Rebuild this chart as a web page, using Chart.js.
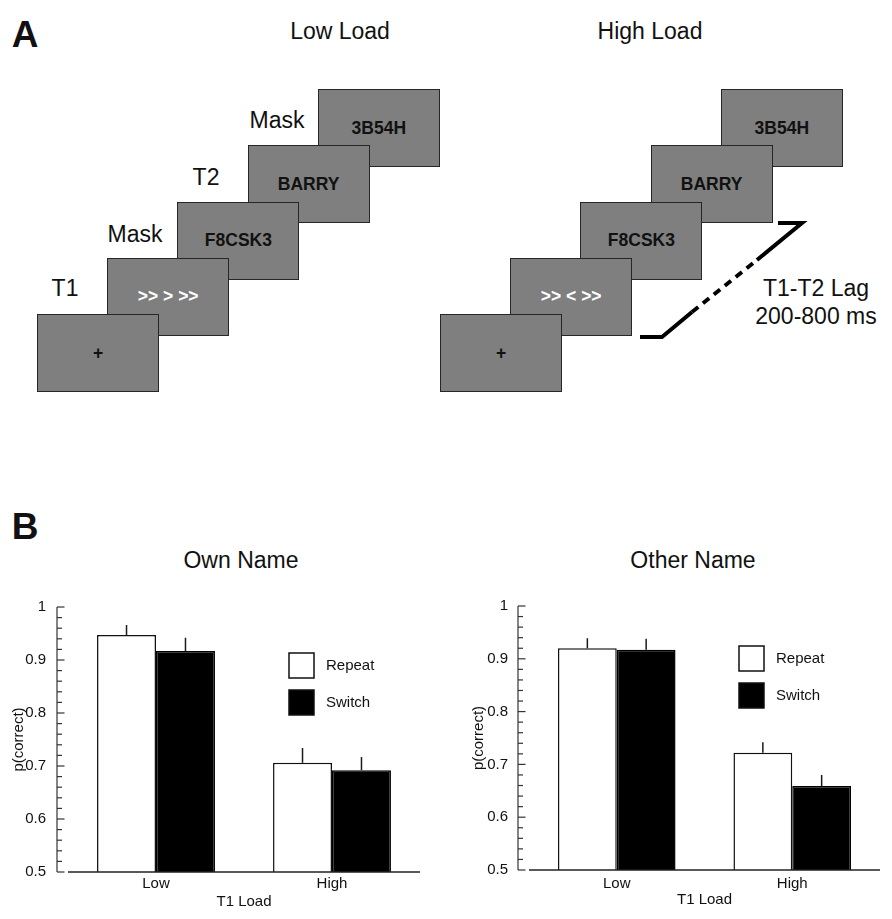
<!DOCTYPE html>
<html>
<head>
<meta charset="utf-8">
<script src="https://cdn.jsdelivr.net/npm/chart.js@4.4.1/dist/chart.umd.min.js"></script>
<style>
  body { margin: 0; background: #fff; font-family: "Liberation Sans", Arial, sans-serif; color: #111; }
  #page { position: relative; width: 892px; height: 919px; overflow: hidden; }
  .t { position: absolute; transform: translate(-50%, -50%); white-space: nowrap; line-height: 1; }
  .lab { font-size: 23px; }
  .big { font-size: 37px; font-weight: bold; }
  .box { position: absolute; width: 120px; height: 76px; background: #7f7f7f; border: 1.5px solid #262626;
         display: flex; align-items: center; justify-content: center; font-weight: bold; font-size: 17.5px; color: #111; }
  canvas { position: absolute; }
</style>
</head>
<body>
<div id="page">
  <div class="t big" style="left:25px;top:34px">A</div>
  <div class="t lab" style="left:340px;top:31px">Low Load</div>
  <div class="t lab" style="left:650px;top:31px">High Load</div>
  <div class="t lab" style="left:65px;top:288px">T1</div>
  <div class="t lab" style="left:135px;top:234px">Mask</div>
  <div class="t lab" style="left:206px;top:177px">T2</div>
  <div class="t lab" style="left:277px;top:120px">Mask</div>
  <div class="t lab" style="left:816px;top:288px">T1-T2 Lag</div>
  <div class="t lab" style="left:816px;top:316px">200-800 ms</div>
  <svg style="position:absolute;left:0;top:0" width="892" height="400">
    <g fill="none" stroke="#000" stroke-width="4">
      <polyline points="640,337 662,337 692,312"/>
      <line x1="692" y1="312" x2="757" y2="260" stroke-dasharray="8 6"/>
      <polyline points="757,260 802,223 778,223"/>
    </g>
  </svg>

  <div class="t big" style="left:25px;top:526px">B</div>
  <div class="t lab" style="left:241px;top:560px">Own Name</div>
  <div class="t lab" style="left:693px;top:560px">Other Name</div>

  <canvas id="own" width="440" height="329" style="left:0;top:590px;width:440px;height:329px"></canvas>
  <canvas id="other" width="452" height="329" style="left:440px;top:590px;width:452px;height:329px"></canvas>
</div>

<script>
// stimulus sequences for panel A
const lowLoadFrames = ['+', '>> > >>', 'F8CSK3', 'BARRY', '3B54H'];
const highLoadFrames = ['+', '>> < >>', 'F8CSK3', 'BARRY', '3B54H'];

// panel B data
const categories = ['Low', 'High'];
const seriesNames = ['Repeat', 'Switch'];
const ownRepeat = [0.947, 0.706];
const ownRepeatSE = [0.019, 0.028];
const ownSwitch = [0.917, 0.692];
const ownSwitchSE = [0.025, 0.025];
const otherRepeat = [0.920, 0.722];
const otherRepeatSE = [0.019, 0.020];
const otherSwitch = [0.917, 0.659];
const otherSwitchSE = [0.021, 0.021];
const yTickLabels = ['0.5', '0.6', '0.7', '0.8', '0.9', '1'];
const yMin = 0.5, yMax = 1, yStep = 0.1, yMinorStep = 0.02;

// draw the frame stacks
function drawFrames(frames, x0) {
  const page = document.getElementById('page');
  frames.forEach((txt, i) => {
    const d = document.createElement('div');
    d.className = 'box';
    d.style.left = (x0 + i * 70.2) + 'px';
    d.style.top = (314 - i * 56.25) + 'px';
    d.style.zIndex = 10 - i;
    if (txt.indexOf('>') >= 0) d.style.color = '#fff';
    d.textContent = txt;
    page.appendChild(d);
  });
}
drawFrames(lowLoadFrames, 37);
drawFrames(highLoadFrames, 440);

Chart.defaults.font.family = "'Liberation Sans', Arial, sans-serif";
Chart.defaults.color = '#111';

// error bars, offset y axis with minor ticks, x axis line and legend
const figAxes = {
  id: 'figAxes',
  afterDatasetsDraw(chart, args, opts) {
    const { ctx, chartArea: a, scales: { y } } = chart;
    ctx.save();
    ctx.strokeStyle = '#1a1a1a';
    ctx.lineWidth = 1.5;
    chart.data.datasets.forEach((ds, i) => {
      chart.getDatasetMeta(i).data.forEach((bar, j) => {
        const top = y.getPixelForValue(ds.data[j] + ds.errors[j]);
        ctx.beginPath();
        ctx.moveTo(bar.x, bar.y);
        ctx.lineTo(bar.x, top);
        ctx.stroke();
      });
    });

    const ax = a.left - opts.gap;
    ctx.strokeStyle = '#333';
    ctx.lineWidth = 1.2;
    ctx.beginPath();
    ctx.moveTo(ax, y.getPixelForValue(yMax));
    ctx.lineTo(ax, y.getPixelForValue(yMin));
    ctx.stroke();
    const n = Math.round((yMax - yMin) / yMinorStep);
    for (let k = 0; k <= n; k++) {
      const py = y.getPixelForValue(yMin + k * yMinorStep);
      const len = k % 5 === 0 ? 7.5 : 5;
      ctx.beginPath();
      ctx.moveTo(ax, py);
      ctx.lineTo(ax + len, py);
      ctx.stroke();
    }

    ctx.lineWidth = 1.5;
    ctx.strokeStyle = '#222';
    ctx.beginPath();
    ctx.moveTo(a.left, a.bottom);
    ctx.lineTo(a.right, a.bottom);
    ctx.stroke();

    // legend
    ctx.font = "15px 'Liberation Sans', Arial, sans-serif";
    ctx.textBaseline = 'middle';
    chart.data.datasets.forEach((ds, i) => {
      const bx = opts.legendX, by = opts.legendY + i * 37;
      ctx.fillStyle = ds.backgroundColor;
      ctx.fillRect(bx, by, 25, 25);
      ctx.strokeStyle = '#111';
      ctx.lineWidth = 1.5;
      ctx.strokeRect(bx, by, 25, 25);
      ctx.fillStyle = '#111';
      ctx.fillText(ds.label, bx + 37, by + 12.5);
    });
    ctx.restore();
  }
};

function makeChart(id, repeatVals, repeatSE, switchVals, switchSE, lay) {
  return new Chart(document.getElementById(id), {
    type: 'bar',
    data: {
      labels: categories,
      datasets: [
        { label: seriesNames[0], data: repeatVals, errors: repeatSE,
          backgroundColor: '#ffffff', borderColor: '#111', borderWidth: 1.5 },
        { label: seriesNames[1], data: switchVals, errors: switchSE,
          backgroundColor: '#000000', borderColor: '#000', borderWidth: 1.5 }
      ]
    },
    options: {
      responsive: false,
      animation: false,
      layout: { padding: { left: 0, right: lay.padRight, top: lay.padTop, bottom: 0 } },
      datasets: { bar: { barPercentage: 1, categoryPercentage: 0.67 } },
      plugins: {
        legend: { display: false },
        tooltip: { enabled: false },
        figAxes: { gap: 11, legendX: lay.legendX, legendY: lay.legendY }
      },
      scales: {
        x: {
          grid: { display: false, drawTicks: false },
          border: { display: false },
          ticks: { color: '#111', font: { size: 15 }, padding: lay.xTickPad },
          title: { display: true, text: 'T1 Load', color: '#111', font: { size: 15 },
                   padding: { top: 0, bottom: lay.xTitlePad } },
          afterFit: s => { s.height = lay.xHeight; }
        },
        y: {
          min: yMin, max: yMax,
          // tick marks are drawn by figAxes; tickLength only sets the label gap
          grid: { display: false, drawTicks: true, tickLength: lay.yTickGap },
          border: { display: false },
          ticks: { stepSize: yStep, color: '#111', font: { size: 15 }, padding: 0,
                   callback: (v, i) => yTickLabels[i] },
          title: { display: true, text: 'p(correct)', color: '#111', font: { size: 15 },
                   padding: { top: lay.yTitlePad, bottom: 0 } },
          afterFit: s => { s.width = lay.yWidth; }
        }
      }
    },
    plugins: [figAxes]
  });
}

makeChart('own', ownRepeat, ownRepeatSE, ownSwitch, ownSwitchSE,
  { padRight: 20, padTop: 17, xHeight: 47, yWidth: 68, xTickPad: 3, xTitlePad: 8, yTitlePad: 10, yTickGap: 22, legendX: 289, legendY: 63 });
makeChart('other', otherRepeat, otherRepeatSE, otherSwitch, otherSwitchSE,
  { padRight: 12, padTop: 16, xHeight: 49, yWidth: 89, xTickPad: 5, xTitlePad: 10, yTitlePad: 30, yTickGap: 21, legendX: 299, legendY: 56 });
</script>
</body>
</html>
